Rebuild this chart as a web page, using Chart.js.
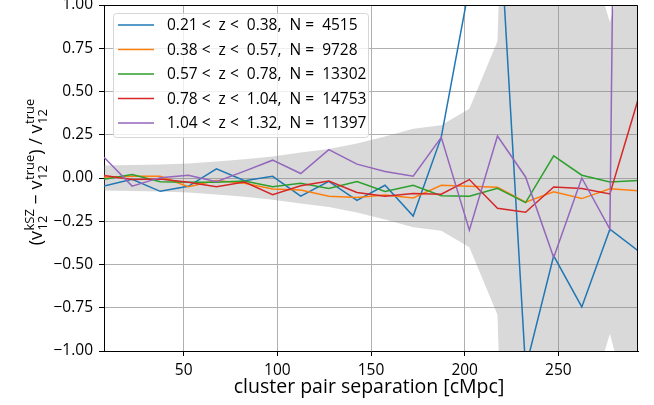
<!DOCTYPE html>
<html>
<head>
<meta charset="utf-8">
<script src="https://cdn.jsdelivr.net/npm/chart.js@4.4.1/dist/chart.umd.min.js"></script>
<style>
    html, body { margin: 0; padding: 0; background: #fff; }
    #wrap { width: 654px; height: 405px; }
</style>
</head>
<body>
<div id="wrap"><canvas id="pairwiseChart" width="654" height="405"></canvas></div>
<script>
// ========== DATA ==========
// bin centres of the pair separation [cMpc]
const separation = [7.5, 22.5, 37.5, 52.5, 67.5, 82.5, 97.5, 112.5, 127.5, 142.5,
                    157.5, 172.5, 187.5, 202.5, 217.5, 232.5, 247.5, 262.5, 277.5, 292.5];

// fractional offset of the kSZ pairwise velocity, one array per redshift bin
const bin1 = [-0.047, -0.008, -0.077, -0.048, 0.053, -0.016, 0.010, -0.105, -0.020, -0.130,
              -0.042, -0.220, 0.236, 1.11, 1.69, -1.10, -0.450, -0.745, -0.296, -0.420];
const bin2 = [0.005, 0.010, 0.010, -0.050, -0.014, -0.030, -0.063, -0.070, -0.105, -0.113,
              -0.098, -0.115, -0.042, -0.048, -0.054, -0.140, -0.080, -0.119, -0.062, -0.074];
const bin3 = [-0.008, 0.020, -0.021, -0.024, -0.025, -0.017, -0.051, -0.031, -0.061, -0.021,
              -0.078, -0.042, -0.103, -0.106, -0.060, -0.142, 0.128, 0.016, -0.023, -0.014];
const bin4 = [0.014, -0.008, -0.006, -0.025, -0.050, -0.023, -0.096, -0.045, -0.017, -0.084,
              -0.105, -0.090, -0.094, -0.009, -0.175, -0.198, -0.052, -0.061, -0.092, 0.452];
const bin5 = [0.120, -0.047, 0.002, 0.016, -0.022, 0.040, 0.103, 0.026, 0.164, 0.080,
              0.038, 0.010, 0.235, -0.302, 0.243, 0.006, -0.460, 0.000, -0.295, 14.0];

// 1-sigma scatter shown as the grey band
const sigma = [0.072, 0.075, 0.078, 0.084, 0.095, 0.108, 0.125, 0.148, 0.168, 0.200,
               0.240, 0.285, 0.305, 0.400, 0.790, 6.0, 4.0, 1.44, 0.90, 1.52];

const binLabels = [
    '0.21 <  z <  0.38,  N =  4515',
    '0.38 <  z <  0.57,  N =  9728',
    '0.57 <  z <  0.78,  N =  13302',
    '0.78 <  z <  1.04,  N =  14753',
    '1.04 <  z <  1.32,  N =  11397'
];
const binColors = ['#1f77b4', '#ff7f0e', '#2ca02c', '#d62728', '#9467bd'];

const xTicks = [50, 100, 150, 200, 250];
const yTicks = [-1, -0.75, -0.5, -0.25, 0, 0.25, 0.5, 0.75, 1];
// ===================================

const FONT = '"Open Sans", "DejaVu Sans", sans-serif';

function toPoints(values) {
    return separation.map((x, i) => ({ x: x, y: values[i] }));
}

function formatTick(v) {
    const s = Math.abs(v).toFixed(2);
    return v < 0 ? '\u2212' + s : s;
}

// draws v with stacked super/subscript, returns advance width
function drawScripted(ctx, x, base, sup, sub, mainFont, smallFont) {
    ctx.font = mainFont;
    ctx.fillText(base, x, 0);
    let w = ctx.measureText(base).width;
    ctx.font = smallFont;
    ctx.fillText(sup, x + w + 0.5, -8);
    ctx.fillText(sub, x + w + 0.5, 5);
    const sw = Math.max(ctx.measureText(sup).width, ctx.measureText(sub).width);
    return w + sw + 0.5;
}

function measureScripted(ctx, base, sup, sub, mainFont, smallFont) {
    ctx.font = mainFont;
    const w = ctx.measureText(base).width;
    ctx.font = smallFont;
    return w + Math.max(ctx.measureText(sup).width, ctx.measureText(sub).width) + 0.5;
}

const decorations = {
    id: 'decorations',
    afterDraw(chart) {
        const ctx = chart.ctx;
        const area = chart.chartArea;
        ctx.save();

        // top and right spines (left/bottom come from the axis borders)
        ctx.strokeStyle = '#000';
        ctx.lineWidth = 1;
        ctx.beginPath();
        ctx.moveTo(Math.round(area.left), Math.round(area.top) + 0.5);
        ctx.lineTo(Math.round(area.right) - 0.5, Math.round(area.top) + 0.5);
        ctx.lineTo(Math.round(area.right) - 0.5, Math.round(area.bottom) + 1);
        ctx.stroke();

        // legend box
        const lx = 113, ly = 13, lw = 255, lh = 124;
        ctx.beginPath();
        ctx.roundRect(lx + 0.5, ly + 0.5, lw, lh, 3);
        ctx.fillStyle = 'rgba(255,255,255,0.8)';
        ctx.fill();
        ctx.strokeStyle = '#d6d6d6';
        ctx.stroke();

        ctx.font = '15.5px ' + FONT;
        ctx.textBaseline = 'middle';
        ctx.textAlign = 'left';
        binLabels.forEach((label, i) => {
            const y = 25 + i * 24.5;
            ctx.strokeStyle = binColors[i];
            ctx.lineWidth = 1.5;
            ctx.beginPath();
            ctx.moveTo(118, y);
            ctx.lineTo(154, y);
            ctx.stroke();
            ctx.fillStyle = '#000';
            ctx.fillText(label, 167, y + 1);
        });

        // x axis title
        ctx.font = '19.5px ' + FONT;
        ctx.textAlign = 'center';
        ctx.fillText('cluster pair separation [cMpc]', (area.left + area.right) / 2 - 2, 387);

        // y axis title, rotated
        const mainFont = '18px ' + FONT;
        const smallFont = '13px ' + FONT;
        ctx.translate(42, 172);
        ctx.rotate(-Math.PI / 2);
        ctx.textAlign = 'left';
        ctx.textBaseline = 'alphabetic';
        ctx.font = mainFont;
        const parts = [
            ['(', null], ['v', 'kSZ'], [' \u2212 ', null], ['v', 'true'],
            [')', null], [' / ', null], ['v', 'true']
        ];
        let total = 0;
        parts.forEach(p => {
            total += p[1] ? measureScripted(ctx, p[0], p[1], '12', mainFont, smallFont)
                          : (ctx.font = mainFont, ctx.measureText(p[0]).width);
        });
        let x = -total / 2;
        parts.forEach(p => {
            if (p[1]) {
                x += drawScripted(ctx, x, p[0], p[1], '12', mainFont, smallFont);
            } else {
                ctx.font = mainFont;
                ctx.fillText(p[0], x, 0);
                x += ctx.measureText(p[0]).width;
            }
        });
        ctx.restore();
    }
};

const lineSets = [bin1, bin2, bin3, bin4, bin5].map((values, i) => ({
    label: binLabels[i],
    data: toPoints(values),
    borderColor: binColors[i],
    borderWidth: 1.5,
    pointRadius: 0,
    tension: 0,
    fill: false,
    clip: 0,
    order: 5 - i
}));

const bandSets = [
    {
        label: 'upper',
        data: toPoints(sigma),
        borderWidth: 0,
        pointRadius: 0,
        backgroundColor: 'rgba(128,128,128,0.3)',
        fill: '+1',
        clip: 0,
        order: 10
    },
    {
        label: 'lower',
        data: toPoints(sigma.map(s => -s)),
        borderWidth: 0,
        pointRadius: 0,
        fill: false,
        clip: 0,
        order: 11
    }
];

const axisCommon = {
    grid: {
        color: '#b0b0b0',
        lineWidth: 1,
        tickColor: '#000',
        tickLength: 5,
        tickWidth: 1
    },
    border: { display: true, color: '#000', width: 1 },
    ticks: {
        color: '#000',
        font: { family: FONT, size: 15.5 }
    }
};

new Chart(document.getElementById('pairwiseChart'), {
    type: 'line',
    data: { datasets: lineSets.concat(bandSets) },
    plugins: [decorations],
    options: {
        responsive: false,
        animation: false,
        events: [],
        layout: { padding: { top: 5, right: 16, left: 0, bottom: 0 } },
        plugins: {
            legend: { display: false },
            tooltip: { enabled: false }
        },
        scales: {
            x: {
                type: 'linear',
                min: 7.5,
                max: 292.5,
                grid: axisCommon.grid,
                border: axisCommon.border,
                ticks: Object.assign({ padding: 5, maxRotation: 0 }, axisCommon.ticks),
                afterBuildTicks(scale) {
                    scale.ticks = xTicks.map(v => ({ value: v }));
                },
                afterFit(scale) {
                    scale.height = 54;
                    scale.paddingLeft = 0;
                    scale.paddingRight = 0;
                }
            },
            y: {
                min: -1,
                max: 1,
                grid: axisCommon.grid,
                border: axisCommon.border,
                ticks: Object.assign({ padding: 6, callback: v => formatTick(v) }, axisCommon.ticks),
                afterBuildTicks(scale) {
                    scale.ticks = yTicks.map(v => ({ value: v }));
                },
                afterFit(scale) {
                    scale.width = 104;
                    scale.paddingTop = 0;
                    scale.paddingBottom = 0;
                }
            }
        }
    }
});
</script>
</body>
</html>
